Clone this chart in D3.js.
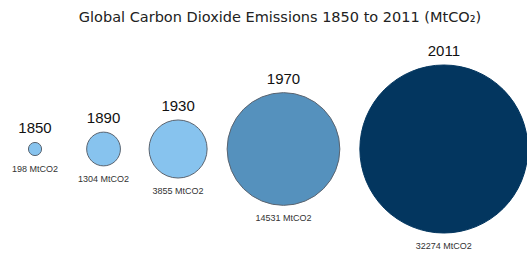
<!DOCTYPE html>
<html>
<head>
<meta charset="utf-8">
<script src="https://cdn.jsdelivr.net/npm/d3@7"></script>
<style>
  html, body { margin: 0; padding: 0; background: #fff; }
  #chart { width: 527px; height: 257px; }
  .title { font-family: "DejaVu Sans", Verdana, sans-serif; font-size: 14.5px; fill: #222; }
  .year-label { font-family: "Liberation Sans", Arial, sans-serif; font-size: 15px; fill: #111; }
  .value-label { font-family: "Liberation Sans", Arial, sans-serif; font-size: 9px; fill: #333; }
</style>
</head>
<body>
<div id="chart"></div>
<script>
const years = ["1850", "1890", "1930", "1970", "2011"];
const emissions = [198, 1304, 3855, 14531, 32274];
const fills = ["#87c3ee", "#87c3ee", "#87c3ee", "#5591bd", "#03365f"];
const titleText = "Global Carbon Dioxide Emissions 1850 to 2011 (MtCO\u2082)";

function drawChart(container){
    d3.select(container).selectAll('*').remove();

    const width = 527, height = 257,
          centerY = 149, gap = 20, startX = 12;

    const svg = d3.select(container)
        .append('svg')
            .attr('width', width)
            .attr('height', height);

    svg.append('text')
        .classed('title', true)
        .attr('x', 280)
        .attr('y', 22)
        .attr('text-anchor', 'middle')
        .text(titleText);

    // area of each bubble follows the emissions
    const r = d3.scaleSqrt()
        .domain([0, d3.max(emissions)])
        .range([0, 84]);

    const data = years.map((y, i) => ({year: y, value: emissions[i], fill: fills[i]}));

    const items = svg.append('g').classed('bubbles', true)
        .selectAll('g')
        .data(data)
        .enter().append('g');

    const valueLabels = items.append('text')
        .classed('value-label', true)
        .attr('text-anchor', 'middle')
        .attr('y', d => centerY + r(d.value) + 16)
        .text(d => `${d.value} MtCO2`);

    // lay the bubbles out left to right, each slot as wide as its circle or its label
    let cursor = startX;
    valueLabels.each(function(d){
        const w = Math.max(2 * r(d.value), this.getComputedTextLength());
        d.cx = cursor + w / 2;
        cursor += w + gap;
    });
    valueLabels.attr('x', d => d.cx);

    items.insert('circle', 'text')
        .attr('cx', d => d.cx)
        .attr('cy', centerY)
        .attr('r', d => r(d.value))
        .style('fill', d => d.fill)
        .style('stroke', d => d.value > 20000 ? d.fill : '#5a6470')
        .style('stroke-width', 1);

    items.append('text')
        .classed('year-label', true)
        .attr('text-anchor', 'middle')
        .attr('x', d => d.cx)
        .attr('y', d => centerY - r(d.value) - 9)
        .text(d => d.year);
}

drawChart('#chart');
</script>
</body>
</html>
